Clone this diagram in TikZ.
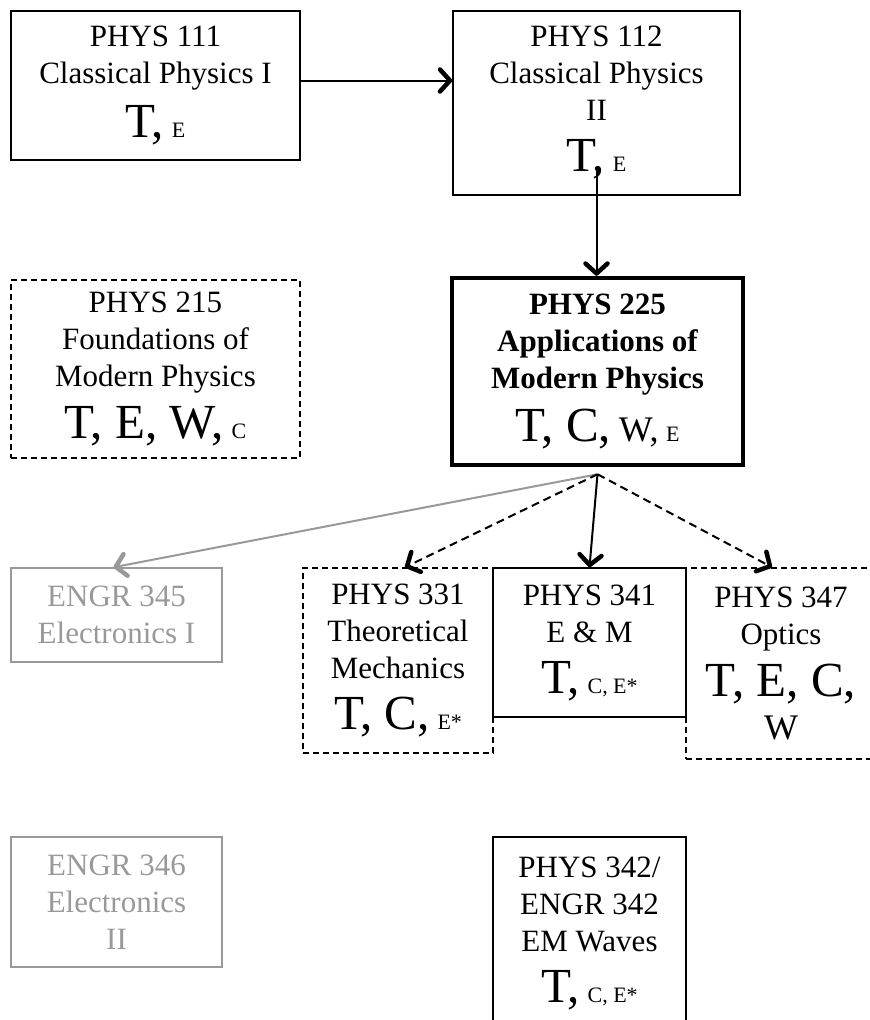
\documentclass[tikz,border=0pt]{standalone}
\usepackage{fontspec}
\setmainfont{Liberation Serif}
\usetikzlibrary{arrows.meta}

\newcommand{\bigtxt}[1]{{\fontsize{49}{50}\selectfont #1}}
\newcommand{\midtxt}[1]{{\fontsize{36}{40}\selectfont #1}}
\newcommand{\smalltxt}[1]{{\fontsize{22}{24}\selectfont #1}}

\tikzset{
  course/.style={draw,line width=1.5pt,align=center,inner sep=0pt,
    font=\fontsize{31}{37}\selectfont},
  optional/.style={course,dash pattern=on 6pt off 4pt},
  core/.style={course,line width=4.5pt,font=\fontsize{31}{37}\selectfont\bfseries},
  engr/.style={course,draw=black!40,text=black!40},
  maybe/.style={dash pattern=on 8pt off 5pt}
}

\begin{document}
\begin{tikzpicture}[x=1pt,y=-1pt,line width=2pt,
    >={Straight Barb[length=10pt,width=22pt,line width=4.5pt,round]}]
      \useasboundingbox (0,0) rectangle (870,1020);
      \clip (0,0) rectangle (870,1020);
      \node[course,minimum width=289,minimum height=149] (p111) at (155.5,85.5)
        {PHYS 111\\Classical Physics I\\[14pt]\bigtxt{T,} \smalltxt{E}};
      \node[course,minimum width=287,minimum height=184] (p112) at (596.5,103)
        {PHYS 112\\Classical Physics\\II\\[14pt]\bigtxt{T,} \smalltxt{E}};
      \node[optional,minimum width=289,minimum height=178] (p215) at (155.5,369)
        {PHYS 215\\Foundations of\\Modern Physics\\[12pt]\bigtxt{T, E, W,} \smalltxt{C}};
      \node[core,minimum width=291,minimum height=187] (p225) at (597.5,371.5)
        {PHYS 225\\Applications of\\Modern Physics\\[12pt]\mdseries\bigtxt{T, C,} \midtxt{W,} \smalltxt{E}};
      \node[engr,minimum width=211,minimum height=94] (e345) at (116.5,615)
        {ENGR 345\\Electronics I};
      \node[optional,minimum width=190,minimum height=185] (p331) at (398,660.5)
        {PHYS 331\\Theoretical\\Mechanics\\[14pt]\bigtxt{T, C,} \smalltxt{E*}};
      \node[course,minimum width=193,minimum height=149] (p341) at (589.5,642.5)
        {PHYS 341\\E \& M\\[14pt]\bigtxt{T,} \smalltxt{C, E*}};
      \node[optional,minimum width=190,minimum height=191] (p347) at (781,663.5)
        {PHYS 347\\Optics\\[12pt]\bigtxt{T, E, C,}\\[6pt]\midtxt{W}};
      \node[engr,minimum width=211,minimum height=130] (e346) at (116.5,902)
        {ENGR 346\\Electronics\\II};
      \node[course,minimum width=193,minimum height=193] (p342) at (589.5,933.5)
        {PHYS 342/\\ENGR 342\\EM Waves\\[14pt]\bigtxt{T,} \smalltxt{C, E*}};
      \coordinate (hub) at ([yshift=-7pt]p225.south);
      \draw[->] ([yshift=5pt]p111.east) -- ([yshift=5pt]p111.east -| p112.west);
      \draw[->] ([yshift=25pt]p112.south) -- (p112.south |- p225.north);
      \draw[->,draw=black!40] (hub) -- ([xshift=-3pt]e345.north);
      \draw[->,maybe] (hub) -- ([xshift=7pt]p331.north);
      \draw[->] (hub) -- (p341.north);
      \draw[->,maybe] (hub) -- ([xshift=-9pt]p347.north);
    \end{tikzpicture}
\end{document}
